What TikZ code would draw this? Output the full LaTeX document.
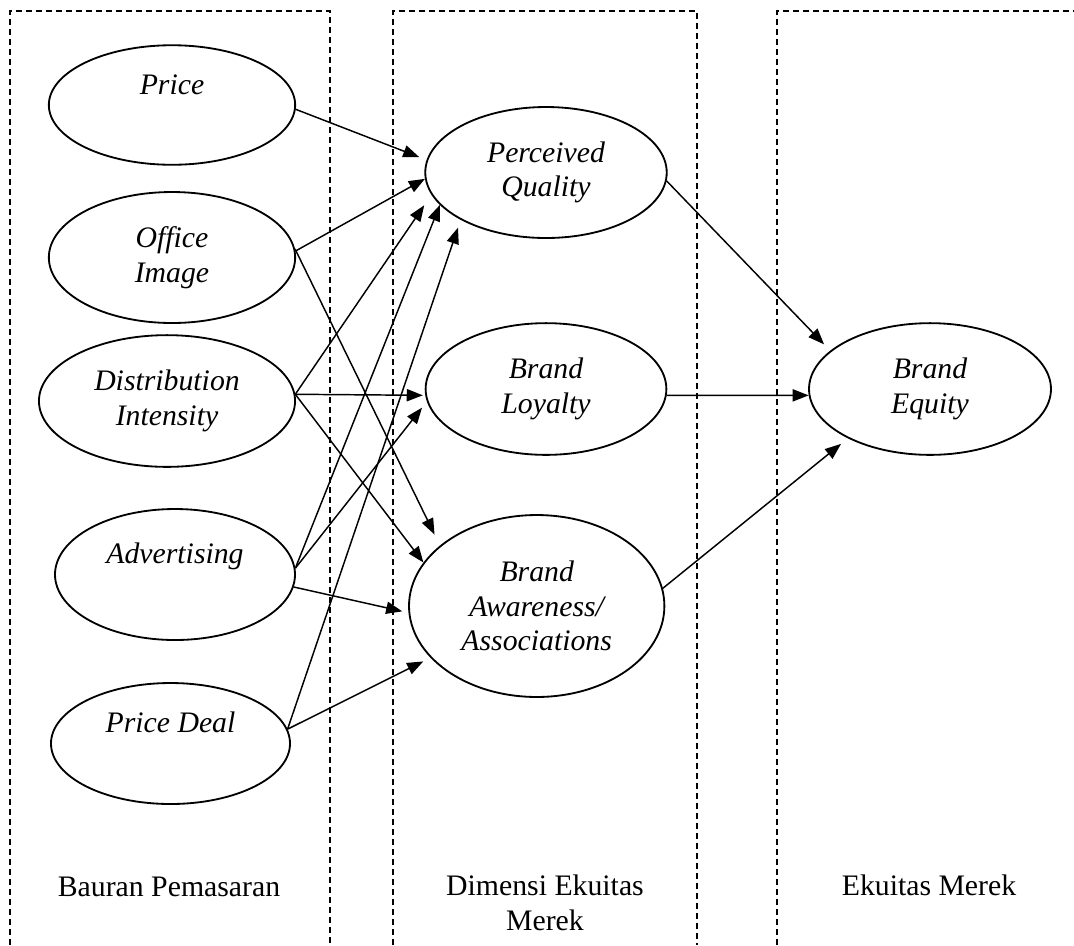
\documentclass[tikz,border=0pt]{standalone}
\usepackage{fontspec}
\setmainfont{Liberation Serif}
\usetikzlibrary{shapes.geometric, arrows.meta}
\tikzset{
    factor/.style={ellipse, draw, line width=0.75pt, inner sep=0pt, align=center, font=\fontsize{12.2}{14.2}\selectfont\itshape, minimum width=100pt, minimum height=54pt},
    oneline/.style={text height=8pt, text depth=17pt},
    column/.style={draw, line width=0.55pt, dash pattern=on 2.6pt off 1.5pt},
    arr/.style={-{Triangle[length=6.6pt, width=5pt]}, line width=0.6pt},
    colname/.style={align=center, font=\fontsize{12.2}{14.4}\selectfont},
}

\begin{document}
\begin{tikzpicture}[x=0.41pt, y=-0.41pt]
\useasboundingbox (0,0) rectangle (1074,945);

% ── Columns (open at the bottom) ──
\draw[column] (10,945) |- (330,11) -- (330,945);
\draw[column] (393,945) |- (697,11) -- (697,945);
\draw[column] (777,945) |- (1074,11);

% ── Bauran pemasaran ──
\node[factor, oneline, minimum width=101pt, minimum height=49pt] (price) at (172,105) {Price};
\node[factor, minimum width=101pt, minimum height=53.7pt] (office) at (172,257.5) {Office\\Image};
\node[factor, minimum width=105pt, minimum height=54pt] (dist) at (167,401) {Distribution\\Intensity};
\node[factor, oneline, minimum width=98.4pt, minimum height=53.7pt] (adv) at (175,574.5) {Advertising};
\node[factor, oneline, minimum width=98pt, minimum height=49.6pt] (deal) at (170.5,743.5) {Price Deal};

% ── Dimensi ekuitas merek ──
\node[factor, minimum width=99pt, minimum height=53.7pt] (pq) at (546,172.5) {Perceived\\Quality};
\node[factor, minimum width=98.7pt, minimum height=54pt] (bl) at (546,389) {Brand\\Loyalty};
\node[factor, minimum width=104.7pt, minimum height=74.6pt] (ba) at (536.7,606) {Brand\\Awareness/\\Associations};

% ── Ekuitas merek ──
\node[factor, minimum width=99.2pt, minimum height=54pt] (be) at (930,389) {Brand\\Equity};

% ── Column names ──
\node[colname] (mix) at (169,887) {Bauran Pemasaran};
\node[colname] (dim) at (545,903) {Dimensi Ekuitas\\Merek};
\node[colname] (eq) at (929,885) {Ekuitas Merek};

% ── Into perceived quality ──
\draw[arr, shorten >=3.2pt] (price.-2) -- (pq.174);
\draw[arr] (office.3) -- (pq.183);
\draw[arr, shorten >=5.2pt] (dist.3) -- (pq.191);
\draw[arr] (adv.3) -- (pq.197);
\draw[arr, shorten >=3.4pt] (deal.7) -- (pq.209);

% ── Into brand loyalty ──
\draw[arr, shorten >=1pt] (dist.3) -- (bl.183);
\draw[arr, shorten >=3.2pt] (adv.3) -- (bl.186);

% ── Into brand awareness ──
\draw[arr, shorten >=5pt] (office.4) -- (ba.148);
\draw[arr] (dist.3) -- (ba.159);
\draw[arr, shorten >=2.6pt] (adv.-6) -- (ba.183);
\draw[arr, shorten >=3.3pt] (deal.7) -- (ba.206);

% ── Into brand equity ──
\draw[arr, shorten >=3.6pt] (pq.-4) -- (be.159);
\draw[arr] (bl.-3) -- (be.183);
\draw[arr, shorten >=3.6pt] (ba.8) -- (be.211);

\end{tikzpicture}
\end{document}
